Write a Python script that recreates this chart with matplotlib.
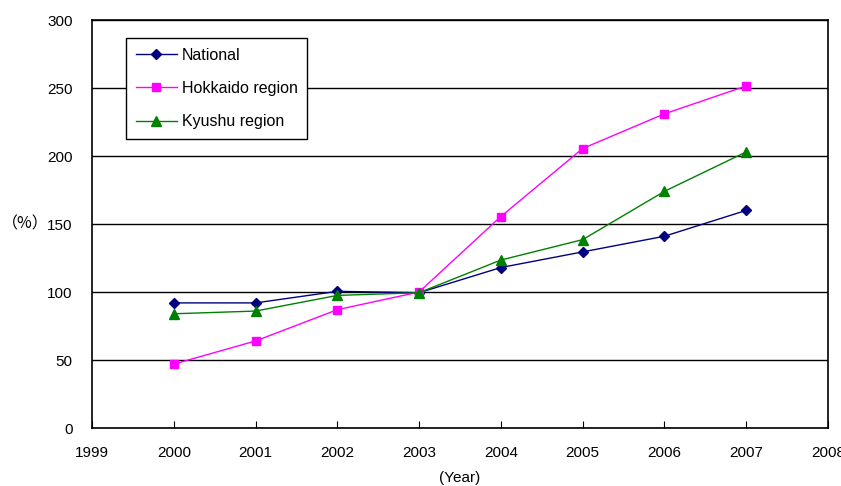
import matplotlib
matplotlib.use("Agg")
import matplotlib.pyplot as plt

years = [2000, 2001, 2002, 2003, 2004, 2005, 2006, 2007]
national = [92, 92, 100.5, 99.5, 118, 129.5, 141, 160]
hokkaido = [47, 64, 87, 100, 155.5, 205.5, 231, 251.5]
kyushu = [84, 86, 97.5, 99.5, 123.5, 138.5, 174, 203]
x_ticks = list(range(1999, 2009))
y_ticks = [0, 50, 100, 150, 200, 250, 300]

plt.rcParams['font.family'] = ['Liberation Sans', 'DejaVu Sans']

fig = plt.figure(figsize=(8.41, 4.86), dpi=100)
ax = fig.add_axes([0.1094, 0.1193, 0.875, 0.8395])

ax.plot(years, national, color='#000080', marker='D', markersize=5.5, lw=1, label='National')
ax.plot(years, hokkaido, color='#ff00ff', marker='s', markersize=6, lw=1, label='Hokkaido region')
ax.plot(years, kyushu, color='#008000', marker='^', markersize=7.5, lw=1, label='Kyushu region')

ax.set_xlim(1999, 2008)
ax.set_ylim(0, 300)
ax.set_xticks(x_ticks)
ax.set_yticks(y_ticks)
ax.tick_params(axis='x', direction='in', length=5, pad=13, labelsize=11)
ax.tick_params(axis='y', length=0, pad=14, labelsize=11)
ax.yaxis.grid(True, color='black', lw=1)
ax.set_axisbelow(True)
for s in ax.spines.values():
    s.set_linewidth(1.2)

ax.set_xlabel('(Year)', fontsize=11, labelpad=8)
# full-width parens need a CJK font
fig.text(49 / 841, (486 - 224) / 486, '（%）', family=['Noto Sans CJK JP', 'DejaVu Sans'],
         fontsize=11.5, va='center', ha='right')

leg = ax.legend(loc='upper left', bbox_to_anchor=(34 / 736, 1 - 18 / 408), fontsize=11.5,
                fancybox=False, framealpha=1, edgecolor='black', handlelength=2.6,
                labelspacing=1.15, borderpad=0.6, handletextpad=0.3, borderaxespad=0)
leg.get_frame().set_linewidth(1)

fig.savefig('out.png', dpi=100)
